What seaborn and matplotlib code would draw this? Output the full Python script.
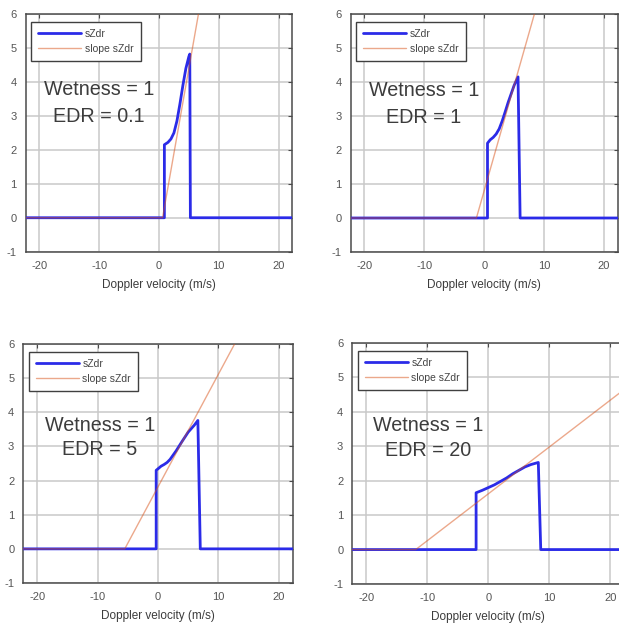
import matplotlib
matplotlib.use("Agg")
import matplotlib.pyplot as plt
import seaborn as sns
import pandas as pd
from matplotlib.lines import Line2D

# ---------------- data ----------------
edr_labels = ["0.1", "1", "5", "20"]
wetness = "1"

# sZdr curves (Doppler velocity m/s, sZdr dB)
szdr_v_1 = [-25, 0.9, 0.9, 1.5, 2.0, 2.5, 3.0, 3.5, 4.0, 4.5, 5.0, 5.15, 5.25, 25]
szdr_z_1 = [0, 0, 2.15, 2.22, 2.32, 2.5, 2.85, 3.35, 3.9, 4.4, 4.75, 4.82, 0, 0]

szdr_v_2 = [-25, 0.55, 0.55, 1.0, 1.5, 2.0, 2.5, 3.0, 3.5, 4.0, 4.5, 5.0, 5.65, 6.0, 25]
szdr_z_2 = [0, 0, 2.2, 2.3, 2.37, 2.47, 2.62, 2.85, 3.12, 3.4, 3.65, 3.9, 4.15, 0, 0]

szdr_v_3 = [-25, -0.3, -0.3, 0.5, 1.0, 1.5, 2.0, 3.0, 4.0, 5.0, 6.0, 6.6, 7.0, 25]
szdr_z_3 = [0, 0, 2.3, 2.42, 2.47, 2.53, 2.62, 2.87, 3.15, 3.42, 3.62, 3.76, 0, 0]

szdr_v_4 = [-25, -2.0, -2.0, -1.0, 0, 1, 2, 3, 4, 5, 6, 7, 8.2, 8.6, 25]
szdr_z_4 = [0, 0, 1.65, 1.72, 1.8, 1.88, 1.98, 2.08, 2.2, 2.3, 2.4, 2.47, 2.53, 0, 0]

# slope sZdr lines
slope_v_1 = [-25, 0.6, 7.6]
slope_z_1 = [0, 0, 7.0]
slope_v_2 = [-25, -1.3, 10.0]
slope_z_2 = [0, 0, 7.0]
slope_v_3 = [-25, -5.5, 15.5]
slope_z_3 = [0, 0, 6.93]
slope_v_4 = [-25, -11.9, 25]
slope_z_4 = [0, 0, 5.02]

x_ticks = [-20, -10, 0, 10, 20]
y_ticks = [-1, 0, 1, 2, 3, 4, 5, 6]
x_label = "Doppler velocity (m/s)"
series_names = ["sZdr", "slope sZdr"]

# text positions (data coords) per panel
text_pos = [(-10.0, 3.77, 2.97), (-10.1, 3.76, 2.97), (-9.6, 3.6, 2.9), (-9.8, 3.59, 2.89)]

# ---------------- style ----------------
sns.set_style("white")
plt.rcParams["font.family"] = ["Liberation Sans", "DejaVu Sans"]

W, H = 619, 624
fig = plt.figure(figsize=(W / 100, H / 100), dpi=100)
fig.patch.set_facecolor("white")

# axes rectangles in pixels: left, top, width, height
rects = [
    (25.7, 14.0, 266.6, 237.7),
    (350.7, 14.0, 267.0, 238.0),
    (23.3, 344.0, 269.4, 239.0),
    (352.3, 343.0, 272.0, 241.0),
]

blue = "#2b2be8"
orange = "#d95319"
grid_c = "#c9c9c9"
spine_c = "#4a4a4a"
text_c = "#3c3c3c"
tick_c = "#555555"

szdr_v = [szdr_v_1, szdr_v_2, szdr_v_3, szdr_v_4]
szdr_z = [szdr_z_1, szdr_z_2, szdr_z_3, szdr_z_4]
slope_v = [slope_v_1, slope_v_2, slope_v_3, slope_v_4]
slope_z = [slope_z_1, slope_z_2, slope_z_3, slope_z_4]

for i, (l, t, w, h) in enumerate(rects):
    ax = fig.add_axes([l / W, 1 - (t + h) / H, w / W, h / H])
    df1 = pd.DataFrame({"v": szdr_v[i], "z": szdr_z[i]})
    df2 = pd.DataFrame({"v": slope_v[i], "z": slope_z[i]})
    sns.lineplot(data=df1, x="v", y="z", ax=ax, color=blue, linewidth=2.0,
                 estimator=None, sort=False, zorder=3)
    sns.lineplot(data=df2, x="v", y="z", ax=ax, color=orange, linewidth=1.0,
                 alpha=0.5, estimator=None, sort=False, zorder=4)

    ax.set_xlim(-22.3, 22.3)
    ax.set_ylim(-1, 6)
    ax.set_xticks(x_ticks)
    ax.set_yticks(y_ticks)
    ax.set_xticklabels([str(v) for v in x_ticks])
    ax.set_yticklabels([str(v) for v in y_ticks])
    ax.grid(True, color=grid_c, linewidth=1.1, zorder=0)
    ax.set_axisbelow(True)
    for s in ax.spines.values():
        s.set_visible(True)
        s.set_color(spine_c)
        s.set_linewidth(1.1)
    ax.tick_params(direction="in", length=3, width=0.8, color=spine_c,
                   top=True, right=True, labelsize=8, labelcolor=tick_c, pad=6.5)
    ax.set_xlabel(x_label, fontsize=8.5, color=text_c, labelpad=6)
    ax.set_ylabel("")

    tx, ty1, ty2 = text_pos[i]
    ax.text(tx, ty1, f"Wetness = {wetness}", ha="center", va="center",
            fontsize=14.2, color=text_c, zorder=5)
    ax.text(tx, ty2, f"EDR = {edr_labels[i]}", ha="center", va="center",
            fontsize=14.2, color=text_c, zorder=5)

    handles = [Line2D([], [], color=blue, linewidth=2.0),
               Line2D([], [], color=orange, linewidth=1.0, alpha=0.5)]
    leg = ax.legend(handles, series_names, loc="upper left",
                    bbox_to_anchor=(5.5 / w, 1 - 7.7 / h), borderaxespad=0,
                    fontsize=7.5, frameon=True, fancybox=False, framealpha=1,
                    edgecolor="#404040", handlelength=4.1, handletextpad=0.35,
                    labelspacing=0.45, borderpad=0.7)
    leg.get_frame().set_linewidth(1.0)
    for txt in leg.get_texts():
        txt.set_color("#444444")

fig.savefig("out.png", dpi=100, facecolor="white")
